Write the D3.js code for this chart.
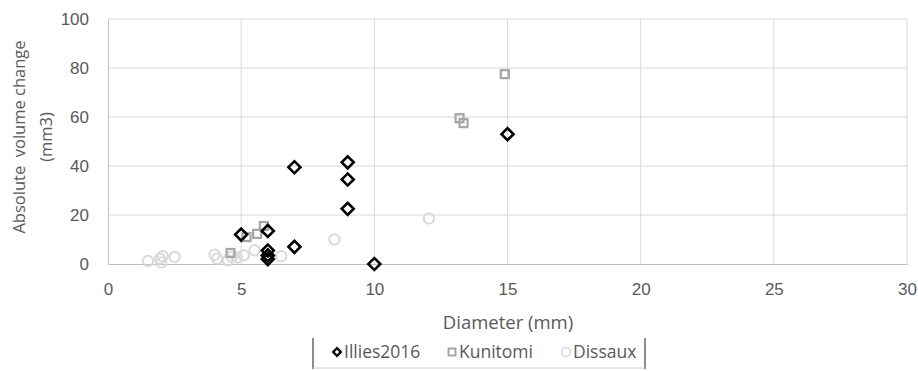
<!DOCTYPE html>
<html>
<head>
<meta charset="UTF-8">
<script src="https://d3js.org/d3.v7.min.js"></script>
<style>
    body { margin: 0; background: #fff; }
    svg { display: block; font-family: 'Open Sans', 'Noto Sans', sans-serif; }
    .tick text { fill: #595959; font-size: 17px; }
</style>
</head>
<body>
<svg id="chart" width="918" height="371"></svg>
<script>
    // --- data ---
    const illiesX = [5, 6, 6, 6, 6, 7, 7, 9, 9, 9, 10, 15];
    const illiesY = [12, 13.5, 5.5, 3.5, 2, 39.5, 7, 41.5, 34.5, 22.5, 0, 53];

    const kunitomiX = [4.6, 5.2, 5.6, 5.85, 13.2, 13.35, 14.9];
    const kunitomiY = [4.5, 11, 12.3, 15.5, 59.5, 57.5, 77.5];

    const dissauxX = [1.5, 1.95, 2.0, 2.05, 2.5, 4.0, 4.1, 4.5, 4.65, 4.85, 5.1, 5.5, 6.5, 8.5, 12.05];
    const dissauxY = [1.2, 2.2, 0.6, 3.2, 2.9, 3.8, 2.2, 1.5, 3.0, 2.6, 3.6, 5.6, 3.2, 10, 18.6];

    const xTicks = [0, 5, 10, 15, 20, 25, 30];
    const yTicks = [0, 20, 40, 60, 80, 100];

    const seriesNames = ["Illies2016", "Kunitomi", "Dissaux"];

    // --- layout ---
    const svg = d3.select("#chart");
    const plotL = 108, plotR = 907, plotT = 19, plotB = 264;

    const x = d3.scaleLinear().domain([0, 30]).range([plotL, plotR]);
    const y = d3.scaleLinear().domain([0, 100]).range([plotB, plotT]);

    // grid
    svg.append("g").selectAll("line")
        .data(yTicks.filter(d => d > 0))
        .enter().append("line")
        .attr("x1", plotL).attr("x2", plotR)
        .attr("y1", d => y(d)).attr("y2", d => y(d))
        .attr("stroke", "#d9d9d9").attr("stroke-width", 1);

    svg.append("g").selectAll("line")
        .data(xTicks.filter(d => d > 0))
        .enter().append("line")
        .attr("x1", d => x(d)).attr("x2", d => x(d))
        .attr("y1", plotT).attr("y2", plotB)
        .attr("stroke", "#d9d9d9").attr("stroke-width", 1);

    // axes
    const xAxis = svg.append("g")
        .attr("transform", `translate(0,${plotB})`)
        .call(d3.axisBottom(x).tickValues(xTicks).tickSize(0).tickPadding(19));
    xAxis.select(".domain").attr("stroke", "#bfbfbf");

    const yAxis = svg.append("g")
        .attr("transform", `translate(${plotL},0)`)
        .call(d3.axisLeft(y).tickValues(yTicks).tickSize(0).tickPadding(19));
    yAxis.select(".domain").attr("stroke", "#bfbfbf");

    // axis titles
    svg.append("text")
        .attr("x", 508).attr("y", 329)
        .attr("text-anchor", "middle")
        .attr("fill", "#595959").attr("font-size", 18.5)
        .text("Diameter (mm)");

    const yTitle = svg.append("text")
        .attr("transform", "translate(25,137) rotate(-90)")
        .attr("text-anchor", "middle")
        .style("white-space", "pre")
        .attr("fill", "#595959").attr("font-size", 16.5);
    yTitle.append("tspan").attr("x", 0).attr("dy", 0).text("Absolute  volume change");
    yTitle.append("tspan").attr("x", 0).attr("dy", 27).text("(mm3)");

    // markers
    const diamond = d3.symbol().type(d3.symbolSquare).size(72);

    const dissaux = svg.append("g");
    dissaux.selectAll("circle")
        .data(d3.range(dissauxX.length))
        .enter().append("circle")
        .attr("cx", i => x(dissauxX[i]))
        .attr("cy", i => y(dissauxY[i]))
        .attr("r", 5.2)
        .attr("fill", "none")
        .attr("stroke", "#d9d9d9")
        .attr("stroke-width", 2);

    const kunitomi = svg.append("g");
    kunitomi.selectAll("rect")
        .data(d3.range(kunitomiX.length))
        .enter().append("rect")
        .attr("x", i => x(kunitomiX[i]) - 4)
        .attr("y", i => y(kunitomiY[i]) - 4)
        .attr("width", 8).attr("height", 8)
        .attr("fill", "none")
        .attr("stroke", "#a6a6a6")
        .attr("stroke-width", 2.2);

    const illies = svg.append("g");
    illies.selectAll("path")
        .data(d3.range(illiesX.length))
        .enter().append("path")
        .attr("d", diamond)
        .attr("transform", i => `translate(${x(illiesX[i])},${y(illiesY[i])}) rotate(45)`)
        .attr("fill", "none")
        .attr("stroke", "#000")
        .attr("stroke-width", 2.6);

    // legend
    const legend = svg.append("g");
    legend.append("rect")
        .attr("x", 313).attr("y", 338).attr("width", 332).attr("height", 31)
        .attr("fill", "#fff");
    legend.append("line").attr("x1", 313).attr("x2", 313).attr("y1", 338).attr("y2", 369)
        .attr("stroke", "#8c8c8c").attr("stroke-width", 2);
    legend.append("line").attr("x1", 645).attr("x2", 645).attr("y1", 338).attr("y2", 369)
        .attr("stroke", "#8c8c8c").attr("stroke-width", 2);
    legend.append("line").attr("x1", 313).attr("x2", 645).attr("y1", 368).attr("y2", 368)
        .attr("stroke", "#d0d0d0").attr("stroke-width", 1);

    const legendX = [337, 452, 566];
    seriesNames.forEach((name, i) => {
        const g = legend.append("g").attr("transform", `translate(${legendX[i]},352)`);
        if (i === 0) {
            g.append("path").attr("d", d3.symbol().type(d3.symbolSquare).size(30))
                .attr("transform", "rotate(45)")
                .attr("fill", "none").attr("stroke", "#000").attr("stroke-width", 2.4);
        } else if (i === 1) {
            g.append("rect").attr("x", -3.5).attr("y", -3.5).attr("width", 7).attr("height", 7)
                .attr("fill", "none").attr("stroke", "#a6a6a6").attr("stroke-width", 2);
        } else {
            g.append("circle").attr("r", 4.5)
                .attr("fill", "none").attr("stroke", "#d9d9d9").attr("stroke-width", 1.5);
        }
        g.append("text")
            .attr("x", 7).attr("y", 6.3)
            .attr("fill", "#595959").attr("font-size", 17.5)
            .text(name);
    });
</script>
</body>
</html>
